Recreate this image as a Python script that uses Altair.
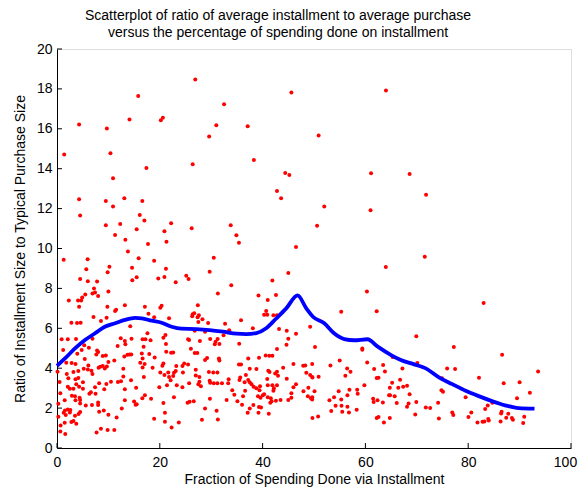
import altair as alt
import pandas as pd

# ---- scatter points (x = % on installment, y = ratio) ----
upper_x = [26.9, 45.6, 15.8, 32.5, 4.3, 9.7, 14.1, 20.2, 20.6, 31.0, 37.1, 29.6, 1.4, 10.4, 38.3, 26.4, 17.4,
           44.4, 45.2, 10.9, 42.8, 43.6, 4.3, 9.5, 13.1, 16.6, 10.9, 4.5, 16.1, 17.0, 9.5, 12.3, 22.2, 15.5,
           20.9, 26.2, 33.8, 11.3, 34.9, 13.3, 21.3, 35.4, 17.7, 64.0, 50.9, 61.1, 52.0, 61.0, 50.6, 68.6, 71.8]
upper_y = [18.47, 17.82, 17.65, 17.23, 16.21, 16.01, 16.46, 16.43, 16.56, 16.18, 16.13, 15.61, 14.71, 14.77,
           14.44, 14.22, 14.04, 13.79, 13.69, 13.52, 12.88, 12.52, 12.47, 12.38, 12.52, 12.38, 12.10, 11.66,
           11.68, 11.40, 11.16, 11.23, 11.26, 10.96, 10.86, 11.01, 11.16, 10.68, 10.66, 10.44, 10.34, 10.29,
           10.23, 17.92, 15.66, 13.77, 12.10, 11.92, 11.14, 13.74, 12.70]

band1_x = [13.8, 1.3, 5.96, 15.88, 18.9, 10.2, 14.6, 21.2, 5.7, 9.85, 15.5, 14.65, 4.5, 6.0, 7.8, 19.7, 20.9,
           23.1, 7.2, 7.4, 6.9, 5.5, 8.0, 10.0, 4.9, 2.3, 4.1, 4.7, 4.3, 9.8, 13.2, 11.5, 11.3, 17.1, 17.8, 20.1,
           20.35, 18.9, 21.8, 7.1, 9.65, 8.55, 2.8, 3.9, 4.6, 14.25,
           0.9, 2.1, 3.7, 6.9, 12.4, 13.2, 14.5, 16.65, 17.2, 18.2, 17.6, 20.7, 21.1, 11.8, 13.3, 16.85, 21.2,
           5.3, 4.8, 6.2, 1.2, 3.95, 7.8, 8.0, 7.65, 8.9, 9.5, 13.1, 13.7, 14.1, 14.45, 16.5, 16.65, 17.95, 19.0,
           21.25, 22.2, 22.6, 5.4, 11.15, 10.0, 1.8, 2.85, 3.6, 23.2, 24.4, 24.75, 16.2, 17.05, 20.5, 20.7, 8.1,
           8.4, 8.9, 9.3, 9.7, 6.1, 5.2, 6.0, 6.7, 16.65, 12.9, 18.6,
           0.1, 1.9, 3.2, 4.15, 3.6, 4.15, 6.9, 0.5, 2.2, 5.05, 12.9, 14.4, 16.9, 19.9, 20.1, 20.9, 21.8, 22.6,
           21.65, 22.75, 23.1, 24.5, 24.4, 23.3, 21.4, 22.75, 22.1, 10.5, 11.85, 12.45, 9.6, 8.2, 7.4, 9.2, 3.75,
           2.1, 2.5, 3.2, 4.3, 5.05, 6.6, 6.3, 7.5, 0.65, 2.9, 3.5, 4.4, 4.5, 4.5, 3.6, 1.5, 0.26, 15.4, 13.2,
           15.3, 15.0, 15.5, 16.6, 18.3, 17.1, 13.2, 6.8, 5.6, 8.0, 8.0, 12.6, 20.7,
           8.2, 9.1, 10.0, 11.6, 2.1, 2.6, 1.55, 1.3, 0.26, 1.7, 2.5, 3.5, 4.2, 4.5, 3.2, 3.75, 2.8, 1.5, 0.7,
           0.65, 1.6, 18.9, 21.0, 21.0, 22.3, 23.7, 8.55, 7.7, 9.85, 11.15]
band1_y = [9.85, 9.43, 9.46, 9.51, 9.39, 9.09, 9.04, 8.99, 8.96, 8.81, 8.56, 8.41, 8.47, 8.36, 8.34, 8.49, 8.57,
           8.31, 8.0, 7.79, 7.75, 7.69, 7.62, 7.84, 7.55, 7.39, 7.39, 7.39, 7.08, 7.08, 7.15, 6.93, 6.87, 7.08,
           6.73, 7.03, 7.13, 6.55, 6.5, 6.57, 6.53, 6.37, 6.28, 6.27, 6.28, 6.1,
           5.45, 5.45, 5.46, 5.48, 5.5, 5.36, 5.48, 5.45, 5.45, 5.4, 5.75, 5.53, 5.66, 5.11, 5.2, 5.08, 5.21,
           5.15, 4.91, 5.03, 4.91, 4.73, 4.89, 4.81, 4.69, 4.61, 4.64, 4.59, 4.68, 4.69, 4.69, 4.74, 4.49, 4.71,
           4.54, 4.83, 4.78, 4.79, 4.46, 4.39, 4.31, 4.27, 4.26, 4.21, 4.11, 4.11, 4.24, 4.27, 4.21, 4.12, 4.24,
           4.02, 4.07, 4.11, 3.99, 4.09, 4.14, 3.97, 3.94, 3.87, 4.04, 3.97, 4.02,
           3.82, 3.71, 3.81, 3.86, 3.44, 3.51, 3.71, 3.31, 3.49, 3.29, 3.59, 3.39, 3.56, 3.05, 3.79, 3.66, 3.56,
           3.61, 3.79, 3.77, 3.86, 3.79, 3.05, 3.14, 3.14, 2.54, 3.39, 3.32, 3.31, 3.34, 3.21, 3.24, 3.04, 2.95,
           3.2, 3.07, 2.97, 2.97, 3.07, 2.97, 2.8, 2.72, 2.72, 2.75, 2.62, 2.59, 2.52, 2.4, 2.23, 2.39, 2.39,
           2.22, 3.02, 2.95, 2.17, 2.33, 2.19, 2.49, 2.47, 2.64, 2.39, 2.15, 2.13, 2.28, 2.15, 1.98, 2.25,
           1.82, 1.88, 1.67, 1.53, 1.93, 1.90, 1.88, 1.77, 1.57, 1.65, 1.78, 1.62, 1.7, 1.8, 1.35, 1.21, 1.30,
           1.26, 1.13, 0.83, 0.70, 1.47, 1.77, 1.31, 1.03, 1.28, 0.96, 0.78, 0.90, 0.90]

band2_x = [46.5, 30.5, 29.7, 25.15, 25.6, 45.0, 41.9, 33.9, 31.3, 39.2, 42.6, 41.0, 27.4, 40.7, 40.3, 40.9, 42.1,
           42.8, 26.4, 26.7, 26.3, 27.6, 27.35, 28.3, 27.5, 29.4, 32.7, 35.8, 38.1, 33.5, 32.4, 28.8, 26.8, 25.5,
           25.7, 27.8, 29.8, 31.25, 30.85, 31.6, 30.7, 43.2, 44.7, 45.0, 44.65, 46.5, 49.25, 35.45, 26.05, 26.8,
           27.3, 42.8, 40.6, 41.3, 41.9, 39.3, 37.2, 29.2, 28.8, 31.5, 31.6, 25.5, 35.4, 35.8, 46.0, 47.9, 48.3,
           27.0, 37.5, 38.8, 44.0, 41.1, 41.35, 42.8, 42.45, 29.55, 30.4, 31.2, 48.5, 49.25, 27.0, 27.7, 27.7,
           27.5, 28.0, 25.7, 29.7, 29.8, 30.5, 31.2, 32.1, 33.4, 33.3, 35.65, 35.5, 36.75, 37.2, 37.5, 37.85,
           38.25, 38.8, 36.5, 34.1, 36.6, 34.5, 36.2, 39.5, 39.4, 39.1, 39.6, 40.05, 40.3, 40.9, 41.0, 41.9,
           42.2, 42.1, 42.8, 43.0, 41.0, 41.6, 41.75, 41.5, 42.6, 43.5, 45.0, 45.6, 45.6, 46.0, 46.5, 44.7,
           47.95, 48.9, 48.8, 49.4, 49.7, 49.7, 25.8, 25.4, 26.6, 29.75, 33.0, 35.1, 36.0, 37.5, 37.1, 38.2,
           39.3, 39.7, 39.2, 41.2, 28.8, 31.05, 28.2, 31.3]
band2_y = [10.08, 9.54, 8.84, 8.64, 8.47, 8.77, 8.39, 8.16, 7.74, 7.65, 7.67, 7.42, 7.15, 6.87, 6.68, 6.68, 6.65,
           6.65, 6.7, 6.75, 6.6, 6.65, 6.55, 6.45, 6.32, 6.27, 6.23, 6.4, 6.0, 5.9, 5.65, 5.83, 5.88, 5.45,
           5.41, 5.36, 5.46, 5.46, 5.33, 5.21, 5.2, 5.96, 5.88, 5.48, 5.18, 5.73, 6.08, 5.23, 4.98, 4.76,
           4.76, 4.96, 4.64, 4.63, 4.63, 4.53, 4.49, 4.51, 4.41, 4.48, 4.38, 4.18, 4.19, 4.19, 4.21, 4.12, 4.14,
           3.92, 3.97, 3.96, 4.02, 3.87, 3.81, 3.82, 3.74, 3.81, 3.79, 3.79, 3.77, 3.66, 3.64, 3.56, 3.32,
           3.2, 3.10, 3.24, 3.37, 3.27, 3.24, 3.24, 3.24, 3.44, 3.24, 3.54, 3.41, 3.66, 3.41, 3.29, 3.19,
           3.07, 3.0, 3.29, 2.90, 2.87, 2.67, 2.59, 3.10, 2.90, 2.60, 2.52, 2.64, 2.70, 3.46, 3.15, 3.14,
           2.99, 2.87, 3.14, 3.62, 2.54, 2.49, 2.34, 2.27, 2.37, 2.40, 2.40, 2.52, 2.75, 3.04, 3.19, 3.47,
           2.85, 3.02, 2.60, 2.49, 3.54, 1.51, 2.32, 2.27, 2.34, 2.47, 2.40, 2.34, 2.17, 1.98, 1.77, 2.15,
           2.05, 2.03, 1.77, 1.72, 1.98, 1.87, 1.42, 1.43]

band3_x = [71.55, 63.97, 60.3, 55.3, 62.2, 69.9, 50.2, 59.4, 59.4, 55.0, 49.65, 60.35, 53.2, 56.45, 57.1, 61.7,
           63.45, 63.8, 65.3, 67.2, 70.1, 49.65, 50.9, 56.1, 62.2, 62.55, 59.8, 65.2, 64.75, 66.75, 66.4, 67.35,
           68.1, 50.1, 49.65, 49.65, 54.8, 56.9, 58.4, 58.5, 56.5, 53.9, 53.0, 55.3, 64.6, 64.8, 65.7, 61.5,
           61.6, 62.35, 63.4, 68.6, 66.1, 68.4, 68.1, 69.9, 74.15, 71.75, 72.6, 54.2, 55.35, 56.5, 53.35, 55.5,
           56.8, 58.3, 69.7, 50.8, 62.2, 62.55, 64.75, 63.6, 74.3]
band3_y = [9.59, 9.07, 7.84, 6.83, 6.85, 5.60, 5.06, 4.99, 4.93, 4.38, 4.21, 4.29, 4.14, 3.99, 3.82, 3.96,
           4.16, 3.84, 4.56, 3.99, 4.26, 3.56, 3.57, 3.62, 3.51, 3.52, 3.15, 3.27, 3.02, 3.42, 3.02, 3.07,
           3.12, 2.84, 2.55, 2.43, 2.85, 2.92, 2.92, 2.72, 2.65, 2.55, 2.39, 2.43, 2.64, 2.65, 2.59, 2.47,
           2.30, 2.39, 2.28, 2.70, 2.25, 2.23, 2.07, 2.30, 2.27, 2.03, 2.0, 2.12, 2.12, 2.07, 1.85, 1.82,
           1.78, 1.92, 1.68, 1.58, 1.51, 1.55, 1.51, 1.28, 1.48]

band4_x = [83.0, 77.2, 86.6, 75.9, 77.45, 93.6, 82.1, 74.9, 86.9, 90.0, 74.8, 75.1, 92.0, 79.5, 89.5, 84.7, 83.8,
           83.3, 80.6, 86.5, 86.4, 87.8, 76.9, 77.1, 80.05, 90.9, 87.4, 88.5, 88.7, 81.8, 82.8, 83.15, 84.0,
           83.9, 86.3, 90.7]
band4_y = [7.27, 5.06, 4.68, 3.99, 3.96, 3.84, 3.52, 3.49, 3.25, 3.29, 2.90, 2.82, 2.77, 2.55, 2.50, 2.27, 2.13,
           1.95, 1.78, 1.82, 1.73, 1.72, 1.78, 1.65, 1.55, 1.57, 1.52, 1.50, 1.42, 1.28, 1.31, 1.33, 1.38,
           1.45, 1.33, 1.25]

# ---- smoothed trend (blue) ----
curve_x = [0, 1.55, 3.5, 5.44, 7.4, 9.3, 11.3, 13.2, 15.2, 16.5, 18.4, 20.35, 22.3, 24.2, 27.1, 29.7, 32.3,
           34.9, 36.8, 38.8, 40.7, 42.6, 44.6, 46.8, 48.5, 49.8, 52.0, 53.9, 55.9, 57.8, 60.4, 62.4, 65.0,
           66.9, 69.5, 71.75, 74.3, 76.9, 79.5, 82.05, 84.65, 87.2, 89.8, 92.9]
curve_y = [4.12, 4.49, 4.99, 5.41, 5.75, 6.08, 6.25, 6.42, 6.52, 6.5, 6.38, 6.28, 6.08, 5.98, 5.96, 5.91, 5.83,
           5.73, 5.71, 5.76, 6.0, 6.48, 7.0, 7.65, 7.0, 6.58, 6.25, 5.75, 5.46, 5.4, 5.45, 5.08, 4.66,
           4.41, 4.19, 3.99, 3.54, 3.2, 2.87, 2.6, 2.35, 2.14, 2.0, 1.97]

x_ticks = [0, 20, 40, 60, 80, 100]
y_ticks = [0, 2, 4, 6, 8, 10, 12, 14, 16, 18, 20]

title_lines = ["Scatterplot of ratio of average installment to average purchase",
               "versus the percentage of spending done on installment"]
x_title = "Fraction of Spending Done via Installment"
y_title = "Ratio of Installment Size to Typical Purchase Size"

pts = pd.DataFrame({"x": upper_x + band1_x + band2_x + band3_x + band4_x,
                    "y": upper_y + band1_y + band2_y + band3_y + band4_y})
curve = pd.DataFrame({"x": curve_x, "y": curve_y})
xt = pd.DataFrame({"x": x_ticks})
yt = pd.DataFrame({"y": y_ticks})

W, H = 514, 399
FONT = "Liberation Sans"

xs = alt.Scale(domain=[0, 100], nice=False, zero=False)
ys = alt.Scale(domain=[0, 20], nice=False, zero=False)

x_axis = alt.Axis(values=x_ticks, tickSize=0, labelPadding=7, labelFontSize=14, labelFont=FONT,
                  labelColor="black", domainColor="black", grid=False, title=x_title,
                  titleFontSize=14, titleFont=FONT, titleFontWeight="normal", titleColor="black",
                  titlePadding=3, labelFlush=False, labelOverlap=False,
                  labelOffset={"condition": {"test": "datum.value === 100", "value": -6}, "value": 0})
y_axis = alt.Axis(values=y_ticks, tickSize=0, labelPadding=5, labelFontSize=14, labelFont=FONT,
                  labelColor="black", domainColor="black", grid=False, title=y_title,
                  titleFontSize=14, titleFont=FONT, titleFontWeight="normal", titleColor="black",
                  titlePadding=9, labelFlush=False, labelOverlap=False, labelBound=False)

X = alt.X("x:Q", scale=xs, axis=x_axis)
Y = alt.Y("y:Q", scale=ys, axis=y_axis)

points = alt.Chart(pts).mark_circle(size=16, color="#ff0000", opacity=1).encode(x=X, y=Y)
line = alt.Chart(curve).mark_line(color="#0000ff", strokeWidth=3.8, interpolate="monotone").encode(x=X, y=Y)
xticks = alt.Chart(xt).mark_rule(color="black", strokeWidth=1).encode(
    x=X, y=alt.value(H), y2=alt.value(H - 5),
)
yticks = alt.Chart(yt).mark_rule(color="black", strokeWidth=1).encode(
    y=Y, x=alt.value(0), x2=alt.value(5),
)

chart = alt.layer(points, line, xticks, yticks).properties(
    width=W, height=H,
    title=alt.TitleParams(text=title_lines, fontSize=14, fontWeight="normal", font=FONT, color="black",
                          anchor="middle", dx=-36, offset=2, lineHeight=17),
    autosize=alt.AutoSizeParams(type="none"),
    padding={"left": 49, "top": 41, "right": 7, "bottom": 40},
).configure_view(stroke=None).configure_axis(labelOverlap=False).configure(background="white")

chart.save("out.html", embed_options={"renderer": "svg", "actions": False})
